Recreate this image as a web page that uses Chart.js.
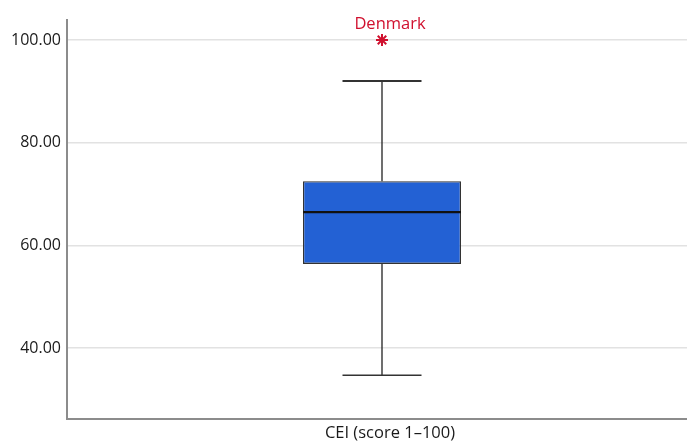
<!DOCTYPE html>
<html>
<head>
<meta charset="utf-8">
<script src="https://cdn.jsdelivr.net/npm/chart.js@4.4.1/dist/chart.umd.min.js"></script>
<style>
  html, body { margin: 0; padding: 0; background: #fff; overflow: hidden; }
  #wrap { width: 687px; height: 442px; overflow: hidden; position: relative; }
  #holder { width: 705px; height: 442px; position: absolute; left: 0; top: 0; }
</style>
</head>
<body>
<div id="wrap"><div id="holder"><canvas id="c" width="705" height="442"></canvas></div></div>
<script>
// ---- data ----
const categories = ['CEI (score 1–100)'];
const whiskerLow = [34.7];
const quartile1 = [56.4];
const medians = [66.5];
const quartile3 = [72.5];
const whiskerHigh = [92.0];
const outlierValues = [100.0];
const outlierLabels = ['Denmark'];
const yTicks = [40, 60, 80, 100];

const FONT = '"Open Sans", "Noto Sans", sans-serif';
const RED = '#d0102e';

const boxPlugin = {
  id: 'boxExtras',
  beforeDatasetsDraw(chart) {
    const ctx = chart.ctx;
    const y = chart.scales.y;
    const meta = chart.getDatasetMeta(0);
    meta.data.forEach((bar, i) => {
      const cx = bar.x;
      const capHalf = bar.width / 4;
      ctx.save();
      ctx.strokeStyle = '#222';
      ctx.lineWidth = 1.3;
      ctx.beginPath();
      ctx.moveTo(cx, y.getPixelForValue(quartile3[i]));
      ctx.lineTo(cx, y.getPixelForValue(whiskerHigh[i]));
      ctx.moveTo(cx, y.getPixelForValue(quartile1[i]));
      ctx.lineTo(cx, y.getPixelForValue(whiskerLow[i]));
      ctx.stroke();
      ctx.lineWidth = 2;
      ctx.strokeStyle = '#333';
      ctx.beginPath();
      ctx.moveTo(cx - capHalf, y.getPixelForValue(whiskerHigh[i]));
      ctx.lineTo(cx + capHalf, y.getPixelForValue(whiskerHigh[i]));
      ctx.stroke();
      ctx.lineWidth = 1.5;
      ctx.beginPath();
      ctx.moveTo(cx - capHalf, y.getPixelForValue(whiskerLow[i]));
      ctx.lineTo(cx + capHalf, y.getPixelForValue(whiskerLow[i]));
      ctx.stroke();
      ctx.restore();
    });
  },
  afterDatasetsDraw(chart) {
    const ctx = chart.ctx;
    const y = chart.scales.y;
    const meta = chart.getDatasetMeta(0);
    meta.data.forEach((bar, i) => {
      const half = bar.width / 2;
      const my = y.getPixelForValue(medians[i]);
      ctx.save();
      ctx.strokeStyle = '#111';
      ctx.lineWidth = 2.2;
      ctx.beginPath();
      ctx.moveTo(bar.x - half, my);
      ctx.lineTo(bar.x + half, my);
      ctx.stroke();
      ctx.restore();
    });
    const om = chart.getDatasetMeta(1);
    om.data.forEach((pt, i) => {
      ctx.save();
      ctx.fillStyle = RED;
      ctx.font = '16.5px ' + FONT;
      ctx.textAlign = 'center';
      ctx.textBaseline = 'alphabetic';
      ctx.fillText(outlierLabels[i], pt.x + 8, pt.y - 11);
      ctx.restore();
    });
  }
};

new Chart(document.getElementById('c'), {
  data: {
    labels: categories,
    datasets: [
      {
        type: 'bar',
        data: quartile1.map((q, i) => [q, quartile3[i]]),
        backgroundColor: '#2361d4',
        borderColor: '#333',
        borderWidth: 1.3,
        borderSkipped: false,
        barPercentage: 0.2508,
        categoryPercentage: 1.0
      },
      {
        type: 'line',
        data: outlierValues,
        showLine: false,
        pointStyle: 'star',
        pointRadius: 6,
        pointBorderColor: RED,
        pointBackgroundColor: RED,
        pointBorderWidth: 2
      }
    ]
  },
  options: {
    responsive: false,
    animation: false,
    devicePixelRatio: 1,
    layout: { padding: { top: 20, right: 0, left: 0, bottom: 0 } },
    plugins: { legend: { display: false }, tooltip: { enabled: false } },
    scales: {
      x: {
        type: 'category',
        offset: true,
        grid: { display: false, drawTicks: false },
        border: { display: true, color: '#8c8c8c', width: 2 },
        ticks: { color: '#1a1a1a', font: { family: FONT, size: 16.5 }, padding: 4, labelOffset: 8 },
        afterFit(s) { s.height = 23; }
      },
      y: {
        type: 'linear',
        min: 26.2,
        max: 103.9,
        afterBuildTicks(s) { s.ticks = yTicks.map(v => ({ value: v })); },
        grid: { color: '#e2e2e2', lineWidth: 1.5, drawTicks: false },
        border: { display: true, color: '#8c8c8c', width: 2 },
        ticks: {
          color: '#1a1a1a',
          font: { family: FONT, size: 16 },
          padding: 6,
          callback: v => Number(v).toFixed(2)
        },
        afterFit(s) { s.width = 67; }
      }
    }
  },
  plugins: [boxPlugin]
});
</script>
</body>
</html>
